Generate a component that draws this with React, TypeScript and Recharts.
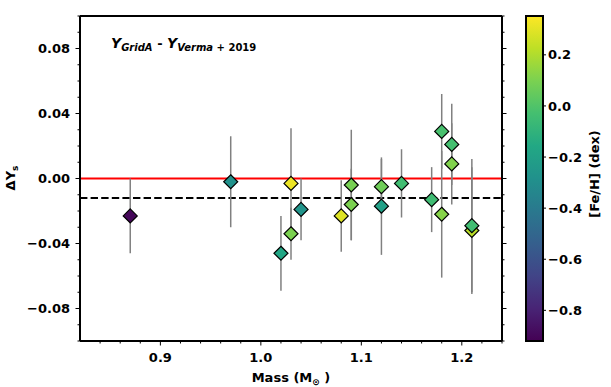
import React from 'react';
import {
  ScatterChart,
  ComposedChart,
  Scatter,
  XAxis,
  YAxis,
  ErrorBar,
  ReferenceLine,
  ReferenceArea,
} from 'recharts';

// stellar mass, helium difference, its error, metallicity
const masses = [0.87, 0.97, 1.02, 1.03, 1.03, 1.04, 1.08, 1.09, 1.09, 1.12, 1.12, 1.14, 1.17, 1.18, 1.18, 1.19, 1.19, 1.21, 1.21];
const deltaY = [-0.023, -0.002, -0.046, -0.003, -0.034, -0.019, -0.023, -0.004, -0.016, -0.005, -0.017, -0.003, -0.013, 0.029, -0.022, 0.021, 0.009, -0.032, -0.029];
const deltaYErr = [0.023, 0.028, 0.023, 0.034, 0.016, 0.019, 0.022, 0.034, 0.022, 0.017, 0.030, 0.021, 0.020, 0.023, 0.039, 0.025, 0.025, 0.039, 0.041];
const feh = [-0.9, -0.28, -0.17, 0.32, 0.1, -0.27, 0.29, 0.09, 0.1, 0.07, -0.2, -0.04, -0.05, -0.02, 0.12, -0.03, 0.11, 0.22, -0.04];

const meanOffset = -0.012;

const xMajor = [0.9, 1.0, 1.1, 1.2];
const xAllTicks = [0.84, 0.86, 0.88, 0.9, 0.92, 0.94, 0.96, 0.98, 1.0, 1.02, 1.04, 1.06, 1.08, 1.1, 1.12, 1.14, 1.16, 1.18, 1.2, 1.22, 1.24];
const yMajor = [-0.08, -0.04, 0, 0.04, 0.08];
const yAllTicks = [-0.1, -0.09, -0.08, -0.07, -0.06, -0.05, -0.04, -0.03, -0.02, -0.01, 0, 0.01, 0.02, 0.03, 0.04, 0.05, 0.06, 0.07, 0.08, 0.09, 0.1];
const cbarTicks = [-0.8, -0.6, -0.4, -0.2, 0.0, 0.2];
const cbarMin = -0.92;
const cbarMax = 0.352;

const VIRIDIS = ['#440154', '#482475', '#414487', '#355f8d', '#2a788e', '#21918c', '#22a884', '#44bf70', '#7ad151', '#bddf26', '#fde725'];

const hex = (h: string) => [1, 3, 5].map((i) => parseInt(h.slice(i, i + 2), 16));

function viridis(v: number) {
  let t = (v - cbarMin) / (cbarMax - cbarMin);
  t = Math.max(0, Math.min(1, t));
  const pos = t * (VIRIDIS.length - 1);
  const i = Math.min(Math.floor(pos), VIRIDIS.length - 2);
  const f = pos - i;
  const a = hex(VIRIDIS[i]);
  const b = hex(VIRIDIS[i + 1]);
  const c = a.map((av, k) => Math.round(av + (b[k] - av) * f));
  return `rgb(${c[0]},${c[1]},${c[2]})`;
}

const data = masses.map((m, i) => ({ mass: m, dy: deltaY[i], err: deltaYErr[i], feh: feh[i] }));

const FONT = '"DejaVu Sans", sans-serif';
const TS = 4;
const TM = 5;

const minus = (s: string) => s.replace('-', '\u2212');
const isMajor = (v: number, majors: number[]) => majors.some((m) => Math.abs(m - v) < 1e-9);

function makeTick(side: 'bottom' | 'left' | 'top' | 'right', majors: number[], fmt?: (v: number) => string) {
  return (p: any) => {
    const { x, y, payload } = p;
    const v = payload.value;
    const major = isMajor(v, majors);
    const len = major ? 4.5 : 2.5;
    if (side === 'bottom') {
      const ay = y - TS - TM;
      return (
        <g>
          <line x1={x} x2={x} y1={ay} y2={ay + len} stroke="#000" strokeWidth={1} />
          {major && fmt && (
            <text x={x} y={ay + 21} textAnchor="middle" fontSize={13} fontWeight="bold" fontFamily={FONT} fill="#000">
              {fmt(v)}
            </text>
          )}
        </g>
      );
    }
    if (side === 'left') {
      const ax = x + TS + TM;
      return (
        <g>
          <line x1={ax - len} x2={ax} y1={y} y2={y} stroke="#000" strokeWidth={1} />
          {major && fmt && (
            <text x={ax - 10} y={y + 4.5} textAnchor="end" fontSize={13} fontWeight="bold" fontFamily={FONT} fill="#000">
              {fmt(v)}
            </text>
          )}
        </g>
      );
    }
    if (side === 'top') {
      const ay = y + TS + TM;
      return <line x1={x} x2={x} y1={ay - len} y2={ay} stroke="#000" strokeWidth={1} />;
    }
    const ax = x - TS - TM;
    return <line x1={ax} x2={ax + len} y1={y} y2={y} stroke="#000" strokeWidth={1} />;
  };
}

const Diamond = (props: any) => {
  const { cx, cy, payload } = props;
  if (cx == null || cy == null) return null;
  const r = 7;
  return (
    <polygon
      points={`${cx},${cy - r} ${cx + r},${cy} ${cx},${cy + r} ${cx - r},${cy}`}
      fill={viridis(payload.feh)}
      stroke="#000"
      strokeWidth={1.2}
    />
  );
};

const axisLine = { stroke: '#000', strokeWidth: 2 };

export default function App() {
  return (
    <div style={{ position: 'absolute', left: 0, top: 0, width: 611, height: 387, background: '#fff', fontFamily: FONT }}>
      <div style={{ position: 'absolute', left: 0, top: 0 }}>
        <ScatterChart width={510} height={387} margin={{ top: 10, right: 0, bottom: 16, left: 20 }}>
          <XAxis
            xAxisId="b"
            dataKey="mass"
            type="number"
            domain={[0.82, 1.24]}
            allowDataOverflow
            ticks={xAllTicks}
            interval={0}
            height={30}
            tickSize={TS}
            tickMargin={TM}
            tickLine={false}
            axisLine={axisLine}
            tick={makeTick('bottom', xMajor, (v) => v.toFixed(1))}
          />
          <XAxis
            xAxisId="t"
            orientation="top"
            type="number"
            domain={[0.82, 1.24]}
            allowDataOverflow
            ticks={xAllTicks}
            interval={0}
            height={6}
            tickSize={TS}
            tickMargin={TM}
            tickLine={false}
            axisLine={axisLine}
            tick={makeTick('top', xMajor)}
          />
          <YAxis
            yAxisId="l"
            dataKey="dy"
            type="number"
            domain={[-0.1, 0.1]}
            allowDataOverflow
            ticks={yAllTicks}
            interval={0}
            width={60}
            tickSize={TS}
            tickMargin={TM}
            tickLine={false}
            axisLine={axisLine}
            tick={makeTick('left', yMajor, (v) => minus(v.toFixed(2)))}
          />
          <YAxis
            yAxisId="r"
            orientation="right"
            type="number"
            domain={[-0.1, 0.1]}
            allowDataOverflow
            ticks={yAllTicks}
            interval={0}
            width={8}
            tickSize={TS}
            tickMargin={TM}
            tickLine={false}
            axisLine={axisLine}
            tick={makeTick('right', yMajor)}
          />
          <ReferenceLine xAxisId="b" yAxisId="l" y={0} stroke="#ff0000" strokeWidth={2} />
          <ReferenceLine xAxisId="b" yAxisId="l" y={meanOffset} stroke="#000" strokeWidth={2} strokeDasharray="7.4 3.2" />
          <Scatter xAxisId="b" yAxisId="l" data={data} shape={Diamond} isAnimationActive={false}>
            <ErrorBar dataKey="err" direction="y" width={0} stroke="#808080" strokeWidth={1.5} />
          </Scatter>
          <text x={111} y={48} fontFamily={FONT} fontWeight="bold" fill="#000">
            <tspan fontSize={14} fontStyle="italic">Y</tspan>
            <tspan fontSize={10} fontStyle="italic" dy={3}>GridA</tspan>
            <tspan fontSize={13} dy={-3}>{' - '}</tspan>
            <tspan fontSize={14} fontStyle="italic">Y</tspan>
            <tspan fontSize={10} fontStyle="italic" dy={3}>Verma</tspan>
            <tspan fontSize={10}>{' + 2019'}</tspan>
          </text>
          <text x={291} y={382} textAnchor="middle" fontFamily={FONT} fontWeight="bold" fontSize={13} fill="#000">
            <tspan>Mass (M</tspan>
            <tspan fontSize={9} dy={3}>{'\u2299'}</tspan>
            <tspan dy={-3}>{' )'}</tspan>
          </text>
          <text
            x={15}
            y={178}
            transform="rotate(-90 15 178)"
            textAnchor="middle"
            fontFamily={FONT}
            fontWeight="bold"
            fontSize={13}
            fill="#000"
          >
            <tspan>ΔY</tspan>
            <tspan fontSize={9} dy={3}>s</tspan>
          </text>
        </ScatterChart>
      </div>
      <div style={{ position: 'absolute', left: 500, top: 0 }}>
        <ComposedChart width={111} height={387} data={[{ x: 0 }, { x: 1 }]} margin={{ top: 16, right: 18, bottom: 46, left: 26 }}>
          <defs>
            <linearGradient id="viridisGrad" x1="0" y1="1" x2="0" y2="0">
              {VIRIDIS.map((c, i) => (
                <stop key={c} offset={`${(i / (VIRIDIS.length - 1)) * 100}%`} stopColor={c} />
              ))}
            </linearGradient>
          </defs>
          <XAxis dataKey="x" type="number" domain={[0, 1]} hide />
          <YAxis
            orientation="right"
            type="number"
            domain={[cbarMin, cbarMax]}
            allowDataOverflow
            ticks={cbarTicks}
            interval={0}
            width={50}
            tickSize={3}
            tickMargin={2}
            axisLine={false}
            tickLine={{ stroke: '#000', strokeWidth: 1 }}
            tick={{ fill: '#000', fontSize: 13, fontWeight: 'bold', fontFamily: FONT }}
            tickFormatter={(v: number) => minus(v.toFixed(1))}
          />
          <ReferenceArea x1={0} x2={1} y1={cbarMin} y2={cbarMax} fill="url(#viridisGrad)" fillOpacity={1} stroke="#000" strokeWidth={2} />
          <text
            x={99}
            y={174}
            transform="rotate(-90 99 174)"
            textAnchor="middle"
            fontFamily={FONT}
            fontWeight="bold"
            fontSize={13}
            fill="#000"
          >
            [Fe/H] (dex)
          </text>
        </ComposedChart>
      </div>
    </div>
  );
}
